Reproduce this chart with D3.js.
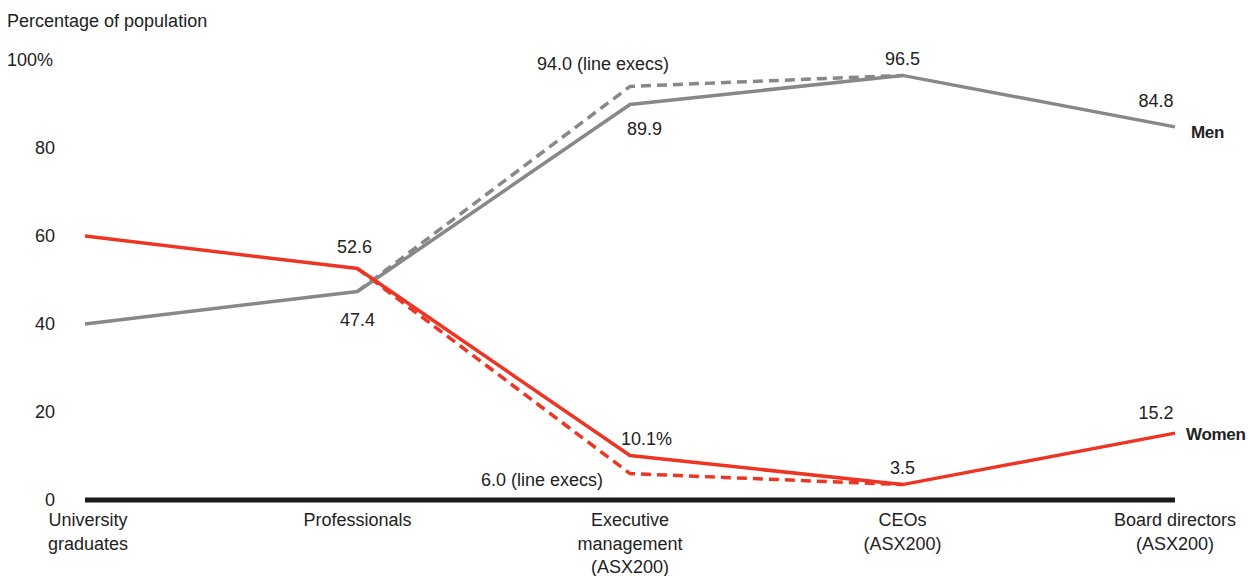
<!DOCTYPE html>
<html>
<head>
<meta charset="utf-8">
<script src="https://cdn.jsdelivr.net/npm/d3@7"></script>
<style>
body{margin:0;background:#fff;}
text{font-family:"Liberation Sans",Arial,sans-serif;fill:#222;}
</style>
</head>
<body>
<svg id="chart" width="1248" height="576"></svg>
<script>
const categories = [["University","graduates"],["Professionals"],["Executive","management","(ASX200)"],["CEOs","(ASX200)"],["Board directors","(ASX200)"]];
const women = [60, 52.6, 10.1, 3.5, 15.2];
const men = [40, 47.4, 89.9, 96.5, 84.8];
const womenLineExecs = [null, 52.6, 6.0, 3.5, null];
const menLineExecs = [null, 47.4, 94.0, 96.5, null];
const yTicks = [0, 20, 40, 60, 80, 100];
const yTickLabels = ["0","20","40","60","80","100%"];

const svg = d3.select("#chart");
const x = d3.scalePoint().domain(d3.range(categories.length)).range([85, 1175]);
const y = d3.scaleLinear().domain([0, 100]).range([500, 60]);

const red = "#ee3524", gray = "#888888";
const fs = 18;

// y tick labels
svg.append("g").selectAll("text").data(yTicks).join("text")
  .attr("x", (d,i)=> i===5 ? 7 : 55)
  .attr("text-anchor", (d,i)=> i===5 ? "start" : "end")
  .attr("y", d=>y(d)).attr("dy","0.35em")
  .attr("font-size",fs)
  .text((d,i)=>yTickLabels[i]);

svg.append("text").attr("x",7).attr("y",27).attr("font-size",fs).text("Percentage of population");

// baseline
svg.append("line").attr("x1",x(0)).attr("x2",x(4)).attr("y1",y(0)).attr("y2",y(0))
  .attr("stroke","#1a1a1a").attr("stroke-width",5);

// category labels
const cat = svg.append("g").selectAll("text").data(categories).join("text")
  .attr("text-anchor","middle").attr("font-size",fs)
  .attr("transform",(d,i)=>`translate(${x(i)+(i===0?3:0)},526)`);
cat.selectAll("tspan").data(d=>d).join("tspan")
  .attr("x",0).attr("dy",(d,i)=> i===0 ? 0 : 23.5).text(d=>d);

const line = d3.line().defined(d=>d!=null).x((d,i)=>x(i)).y(d=>y(d));
function draw(data, color, dash){
  svg.append("path").datum(data).attr("d",line).attr("fill","none")
    .attr("stroke",color).attr("stroke-width",3.5).attr("stroke-linejoin","miter")
    .attr("stroke-dasharray",dash||null);
}
draw(menLineExecs, gray, "10,6");
draw(womenLineExecs, red, "10,6");
draw(men, gray);
draw(women, red);

// value labels
const labels = [
  {t:"52.6", i:1, v:women[1], dx:-3, dy:-22, a:"middle"},
  {t:"47.4", i:1, v:men[1], dx:0, dy:28, a:"middle"},
  {t:"94.0 (line execs)", i:2, v:menLineExecs[2], dx:-27, dy:-23, a:"middle"},
  {t:"89.9", i:2, v:men[2], dx:-3, dy:24, a:"start"},
  {t:"96.5", i:3, v:men[3], dx:0, dy:-17, a:"middle"},
  {t:"84.8", i:4, v:men[4], dx:-19, dy:-26, a:"middle"},
  {t:"10.1%", i:2, v:women[2], dx:-9, dy:-17, a:"start"},
  {t:"6.0 (line execs)", i:2, v:womenLineExecs[2], dx:-27, dy:6, a:"end"},
  {t:"3.5", i:3, v:women[3], dx:0, dy:-17, a:"middle"},
  {t:"15.2", i:4, v:women[4], dx:-19, dy:-20, a:"middle"}
];
svg.append("g").selectAll("text").data(labels).join("text")
  .attr("x",d=>x(d.i)+d.dx).attr("y",d=>y(d.v)+d.dy).attr("dy","0.35em")
  .attr("text-anchor",d=>d.a).attr("font-size",fs).text(d=>d.t);

svg.append("text").attr("x",x(4)+16).attr("y",y(men[4])+5).attr("dy","0.35em")
  .attr("font-size",17).attr("font-weight","bold").attr("letter-spacing","-0.3").text("Men");
svg.append("text").attr("x",x(4)+11).attr("y",y(women[4])+1).attr("dy","0.35em")
  .attr("font-size",17).attr("font-weight","bold").attr("letter-spacing","-0.3").text("Women");
</script>
</body>
</html>
